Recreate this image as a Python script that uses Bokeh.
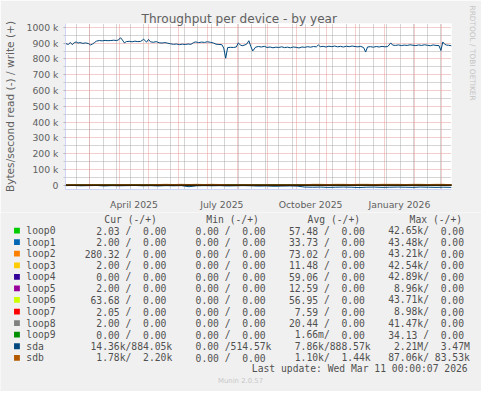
import re
import pandas as pd
from bokeh.plotting import figure
from bokeh.layouts import column
from bokeh.models import FixedTicker, Span, Range1d, Title, ColumnDataSource
from bokeh.core.properties import value
from bokeh.embed import file_html
from bokeh.resources import INLINE

# ---------------- data ----------------
START = pd.Timestamp("2025-02-04")
END = pd.Timestamp("2026-03-11")

names = ["loop0", "loop1", "loop2", "loop3", "loop4", "loop5", "loop6",
         "loop7", "loop8", "loop9", "sda", "sdb"]
colors = ["#00CC00", "#0066B3", "#FF8000", "#FFCC00", "#330099", "#990099",
          "#CCFF00", "#FF0000", "#808080", "#008F00", "#00487D", "#B35A00"]

# sda write (kB/s), day offset from START
sda_write_days = [0, 3, 5, 7, 9, 11, 13, 15, 18, 21,
                  24, 26, 28, 30, 32, 35, 38, 41, 44, 47,
                  50, 53, 55, 57, 59, 61, 63, 66, 69, 72,
                  75, 78, 81, 84, 86, 88, 91, 94, 97, 100,
                  103, 106, 109, 112, 115, 118, 121, 124, 127, 130,
                  133, 135, 138, 141, 144, 147, 150, 153, 156, 159,
                  162, 164, 166, 168, 171, 174, 177, 179, 181, 183,
                  186, 188, 190, 192, 194, 197, 200, 203, 206, 209,
                  212, 215, 218, 221, 224, 227, 230, 233, 236, 239,
                  242, 245, 248, 251, 254, 257, 260, 262, 264, 267,
                  270, 273, 276, 279, 282, 285, 288, 291, 294, 297,
                  300, 303, 306, 309, 311, 313, 316, 319, 322, 325,
                  328, 331, 334, 337, 339, 342, 345, 348, 351, 354,
                  357, 360, 363, 366, 369, 372, 375, 378, 381, 384,
                  387, 389, 391, 393, 395, 397, 400]
sda_write_k = [898, 892, 905, 891, 903, 908, 901, 904, 899, 902,
               897, 889, 895, 904, 913, 917, 915, 918, 916, 917,
               919, 917, 921, 935, 920, 902, 910, 912, 909, 913,
               910, 912, 925, 907, 924, 909, 906, 910, 903, 901,
               904, 900, 896, 893, 895, 891, 894, 892, 895, 893,
               905, 908, 904, 907, 905, 909, 906, 902, 894, 892,
               891, 869, 805, 872, 874, 873, 876, 902, 890, 884,
               889, 896, 916, 880, 851, 875, 879, 876, 880, 873,
               876, 871, 875, 873, 877, 872, 875, 871, 876, 874,
               870, 876, 874, 878, 875, 879, 877, 889, 878, 880,
               876, 881, 878, 882, 877, 880, 876, 881, 878, 882,
               879, 877, 880, 872, 844, 876, 878, 875, 879, 876,
               880, 877, 879, 902, 888, 886, 889, 885, 888, 886,
               890, 887, 885, 889, 886, 890, 887, 884, 889, 886,
               885, 854, 908, 893, 888, 887, 884]

# 8-day samples for the small series
days8 = list(range(0, 401, 8))
sda_read_k = [3, 2, 4, 3, 2, 5, 3, 4, 3, 2,
              4, 3, 5, 3, 4, 3, 10, 4, 3, 4,
              3, 5, 4, 3, 4, 6, 5, 7, 6, 5,
              6, 12, 13, 12, 14, 13, 12, 13, 15, 13,
              12, 14, 13, 12, 13, 14, 12, 13, 14, 13,
              14]
sdb_write_k = [1, 2, 1, 3, 1, 2, 1, 3, 2, 1, 2, 1,
               4, 5, 4, 5, 4, 5, 4, 5, 4,
               2, 1, 1, 2, 1, 1, 1, 2, 1, 1, 2,
               5, 5, 4, 5, 5, 4, 5, 5, 4, 5, 5, 5, 4, 5, 5, 4, 5, 5, 2.2]
sdb_read_k = [1, 1, 2, 1, 1, 1, 2, 1, 1, 1,
              2, 1, 1, 1, 1, 2, 1, 1, 1, 1,
              1, 1, 2, 1, 1, 1, 1, 1, 2, 1,
              1, 1, 1, 2, 1, 1, 1, 1, 1, 1,
              2, 1, 1, 1, 1, 1, 2, 1, 1, 1,
              1.8]

# loop devices (bytes/s)
loop_days = [0, 100, 200, 300, 400]
loop0_read = [55, 60, 52, 63, 2]
loop1_read = [30, 36, 31, 35, 2]
loop2_read = [70, 75, 68, 74, 280]
loop3_read = [10, 12, 11, 13, 2]
loop4_read = [55, 62, 58, 60, 0]
loop5_read = [12, 13, 12, 14, 2]
loop6_read = [50, 58, 57, 60, 64]
loop7_read = [7, 8, 7, 8, 2]
loop8_read = [18, 22, 20, 21, 2]
loop9_read = [0, 0, 0, 0, 0]
loop_write = [0, 0, 0, 0, 0]
loop_reads = [loop0_read, loop1_read, loop2_read, loop3_read, loop4_read,
              loop5_read, loop6_read, loop7_read, loop8_read, loop9_read]

# axes
y_ticks = [0, 100000, 200000, 300000, 400000, 500000, 600000, 700000, 800000, 900000, 1000000]
y_tick_labels = ["0", "100 k", "200 k", "300 k", "400 k", "500 k", "600 k",
                 "700 k", "800 k", "900 k", "1000 k"]
y_minor = [50000, 150000, 250000, 350000, 450000, 550000, 650000, 750000, 850000, 950000]
x_label_dates = ["2025-04-16", "2025-07-16", "2025-10-16", "2026-01-16"]
x_tick_labels = ["April 2025", "July 2025", "October 2025", "January 2026"]

# legend table
cur_col = ["  2.03 /  0.00 ", "  2.00 /  0.00 ", "280.32 /  0.00 ", "  2.00 /  0.00 ",
           "  0.00 /  0.00 ", "  2.00 /  0.00 ", " 63.68 /  0.00 ", "  2.05 /  0.00 ",
           "  2.00 /  0.00 ", "  0.00 /  0.00 ", " 14.36k/884.05k", "  1.78k/  2.20k"]
min_col = ["  0.00 /  0.00 "] * 10 + ["  0.00 /514.57k", "  0.00 /  0.00 "]
avg_col = [" 57.48 /  0.00 ", " 33.73 /  0.00 ", " 73.02 /  0.00 ", " 11.48 /  0.00 ",
           " 59.06 /  0.00 ", " 12.59 /  0.00 ", " 56.95 /  0.00 ", "  7.59 /  0.00 ",
           " 20.44 /  0.00 ", "  1.66m/  0.00 ", "  7.86k/888.57k", "  1.10k/  1.44k"]
max_col = [" 42.65k/  0.00 ", " 43.48k/  0.00 ", " 43.21k/  0.00 ", " 42.54k/  0.00 ",
           " 42.89k/  0.00 ", "  8.96k/  0.00 ", " 43.71k/  0.00 ", "  8.98k/  0.00 ",
           " 41.47k/  0.00 ", " 34.13 /  0.00 ", "  2.21M/  3.47M", " 87.06k/ 83.53k"]
headers = ["Cur (-/+)", "Min (-/+)", "Avg (-/+)", "Max (-/+)"]
title_text = "Throughput per device - by year"
y_axis_text = "Bytes/second read (-) / write (+)"
side_text = "RRDTOOL / TOBI OETIKER"
last_update = "Last update: Wed Mar 11 00:00:07 2026"
footer = "Munin 2.0.57"

# ---------------- layout constants (page is drawn scaled to fit 481 x 391) ----------------
n_days = (END - START).days
REF_W, REF_H = 497, 407
W, H = 481, 391
KX, KY = W / REF_W, H / REF_H
H_MAIN = 212
H_LEG = H - H_MAIN
FONT = "DejaVu Sans"
MONO = "DejaVu Sans Mono"
TXT = "#606060"
BACK = "#F0F0F0"

p = figure(width=W, height=H_MAIN, output_backend="svg", toolbar_location=None,
           title=None,
           x_range=Range1d(0, n_days), y_range=Range1d(-27537, 1025000),
           min_border_left=64, min_border_right=30, min_border_top=23, min_border_bottom=17,
           background_fill_color="#FFFFFF", border_fill_color=BACK,
           outline_line_color=None)
p.frame_align = False

main_title = Title(text=title_text, align="left", offset=76, vertical_align="bottom",
                   standoff=-5.8, text_font=FONT, text_font_size="12.1px",
                   text_font_style="normal", text_color=TXT)
p.add_layout(main_title, "above")

# spacer next to the frame on the right, then the vertical credit text
p.add_layout(Title(text=" ", text_font_size="1px", standoff=10.8, text_color=BACK), "right")
side = Title(text=side_text, align="left", vertical_align="top", standoff=0, offset=-18,
             text_font=FONT, text_font_size="7.4px", text_font_style="normal",
             text_color="#C4C4C4")
p.add_layout(side, "right")

# grids
month_days = [(d - START).days for d in pd.date_range("2025-03-01", END, freq="MS")]
biweek_days = [(d - START).days for d in pd.date_range("2025-02-15", END, freq="14D")]
p.xgrid.ticker = FixedTicker(ticks=month_days, minor_ticks=biweek_days)
yt = FixedTicker(ticks=y_ticks, minor_ticks=y_minor)
p.ygrid.ticker = yt
for g in (p.xgrid, p.ygrid):
    g.grid_line_color = "#E99A9A"
    g.grid_line_dash = "1 1"
    g.minor_grid_line_color = "#ABABAB"
    g.minor_grid_line_dash = "1 1"

# axes
label_days = [(pd.Timestamp(d) - START).days for d in x_label_dates]
p.xaxis.ticker = FixedTicker(ticks=label_days)
p.xaxis.major_label_overrides = dict(zip(label_days, x_tick_labels))
p.xaxis.major_tick_line_color = None
p.xaxis.minor_tick_line_color = None
p.xaxis.major_label_standoff = 3
p.yaxis.ticker = yt
p.yaxis.major_label_overrides = dict(zip(y_ticks, y_tick_labels))
p.yaxis.major_tick_out = 2
p.yaxis.major_tick_in = 0
p.yaxis.minor_tick_out = 2
p.yaxis.minor_tick_in = 0
p.yaxis.major_tick_line_color = "#B0B0B0"
p.yaxis.minor_tick_line_color = "#C8C8C8"
p.yaxis.major_label_standoff = 5
p.yaxis.axis_label = y_axis_text
p.yaxis.axis_label_standoff = 8
p.yaxis.axis_label_text_font = FONT
p.yaxis.axis_label_text_font_size = "10.6px"
p.yaxis.axis_label_text_font_style = "normal"
p.yaxis.axis_label_text_color = TXT
for ax in (p.xaxis, p.yaxis):
    ax.axis_line_color = "#CFD6F8"
    ax.major_label_text_font = FONT
    ax.major_label_text_font_size = "9.3px"
    ax.major_label_text_color = TXT

# series
for i in range(10):
    p.line(loop_days, [-v for v in loop_reads[i]], line_color=colors[i], line_width=1)
    p.line(loop_days, loop_write, line_color=colors[i], line_width=1)
p.line(days8, [-v * 1000 for v in sda_read_k], line_color=colors[10], line_width=1)
p.line(sda_write_days, [v * 1000 for v in sda_write_k], line_color=colors[10], line_width=1)
p.line(days8, [-v * 1000 for v in sdb_read_k], line_color=colors[11], line_width=1)
p.line(days8, [v * 1000 for v in sdb_write_k], line_color=colors[11], line_width=1)
p.add_layout(Span(location=0, dimension="width", line_color="#000000", line_width=1))

# ---------------- legend panel (coordinates = pixels of the original image) ----------------
TOP = H_MAIN / KY
q = figure(width=W, height=H_LEG, output_backend="svg", toolbar_location=None,
           x_range=Range1d(0, REF_W), y_range=Range1d(REF_H, TOP),
           min_border_left=0, min_border_right=0, min_border_top=0, min_border_bottom=0,
           background_fill_color=BACK, border_fill_color=BACK, outline_line_color=None)
q.frame_align = False
q.xaxis.visible = False
q.yaxis.visible = False
q.xgrid.visible = False
q.ygrid.visible = False

LEG = "#505050"
LEG_SIZE = "9.7px"
CW = 6.03
X0 = 26.7
ROW0 = 239.5
ROWH = 12.04

hx = [107.3, 212.7, 317.3, 422.7]
q.text(x=hx, y=[227.7] * 4, text=headers, text_font=value(MONO), text_font_size=value(LEG_SIZE),
       text_color=LEG, text_baseline="middle", text_align="left")

tok_x, tok_y, tok_t = [], [], []
for i, name in enumerate(names):
    Y = ROW0 + ROWH * i
    row = name.ljust(10) + cur_col[i] + "  " + min_col[i] + "  " + avg_col[i] + "  " + max_col[i]
    for m in re.finditer(r"\S+", row):
        tok_x.append(X0 + CW * m.start())
        tok_y.append(Y)
        tok_t.append(m.group(0))
q.text(x="x", y="y", text="t", source=ColumnDataSource(dict(x=tok_x, y=tok_y, t=tok_t)),
       text_font=value(MONO), text_font_size=value(LEG_SIZE), text_color=LEG,
       text_baseline="middle", text_align="left")

sw_y = [ROW0 + ROWH * i for i in range(len(names))]
q.rect(x=[17] * len(names), y=sw_y, width=6, height=6, fill_color=colors, line_color=None)

q.text(x=[482.7], y=[383.5], text=[last_update], text_font=value(MONO), text_font_size=value(LEG_SIZE),
       text_color=LEG, text_baseline="middle", text_align="right")
q.text(x=[248], y=[396], text=[footer], text_font=value(FONT), text_font_size=value("6.9px"),
       text_color="#C8C8C8", text_baseline="middle", text_align="center")

layout = column(p, q, spacing=0)
open("out.html", "w").write(file_html(layout, INLINE))
